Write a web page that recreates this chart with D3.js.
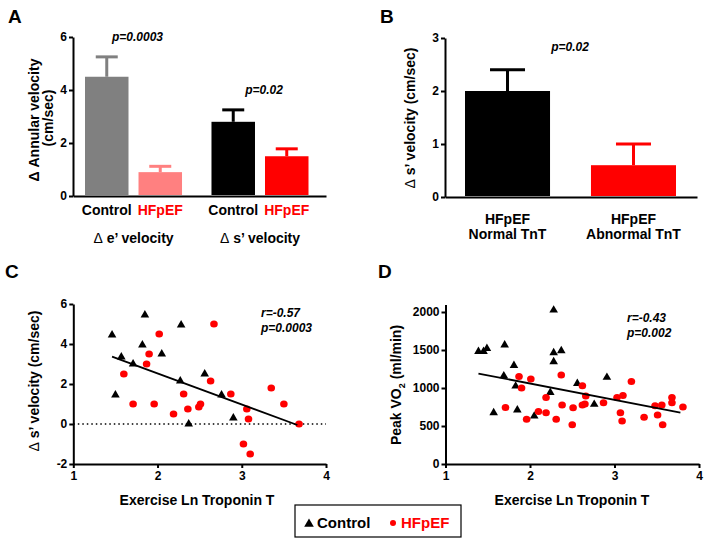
<!DOCTYPE html>
<html><head><meta charset="utf-8">
<script src="https://cdn.jsdelivr.net/npm/d3@7"></script>
<style>
body{margin:0;background:#fff}
text{font-family:"Liberation Sans",Arial,sans-serif;font-weight:bold;fill:#000}
</style>
</head><body>
<svg id="chart" width="706" height="543"></svg>
<script>
// ---------- Panel A data ----------
const aGroups = ["Δ e’ velocity", "Δ s’ velocity"];
const aSeries = ["Control", "HFpEF"];
const aMeans = [[4.5, 0.9], [2.8, 1.5]];
const aErrTop = [[5.25, 1.12], [3.25, 1.78]];
const aColors = [["#808080", "#ff8080"], ["#000000", "#ff0000"]];
const aLabelColors = ["#000000", "#ff0000"];
const aPvals = ["p=0.0003", "p=0.02"];
const aTicks = [0, 2, 4, 6];

// ---------- Panel B data ----------
const bCats = [["HFpEF", "Normal TnT"], ["HFpEF", "Abnormal TnT"]];
const bMeans = [2.0, 0.6];
const bErrTop = [2.4, 1.0];
const bColors = ["#000000", "#ff0000"];
const bTicks = [0, 1, 2, 3];
const bPval = "p=0.02";

// ---------- Panel C data ----------
const cControl = [[1.46,4.45],[1.57,3.35],[1.50,1.45],[1.71,3.0],[1.82,3.95],[1.85,5.45],[2.05,3.5],[2.28,4.95],[2.27,2.15],[2.37,0],[2.56,2.5],[2.76,1.45],[2.90,0.3]];
const cHFpEF = [[1.60,2.5],[1.71,1.0],[1.87,3.0],[1.90,3.5],[1.96,1.0],[2.02,4.5],[2.19,0.5],[2.31,1.5],[2.36,0.75],[2.49,0.85],[2.51,1.0],[2.63,2.15],[2.67,5.0],[2.87,1.5],[3.06,0.75],[3.08,0.25],[3.02,-1.0],[3.10,-1.5],[3.35,1.8],[3.50,1.0],[3.68,0]];
const cFit = [[1.46,3.37],[3.66,-0.05]];
const cYTicks = [-2, 0, 2, 4, 6];
const cStats = ["r=-0.57", "p=0.0003"];

// ---------- Panel D data ----------
const dControl = [[1.39,1480],[1.45,1480],[1.49,1520],[1.70,1565],[1.57,675],[1.69,1160],[1.81,1295],[1.83,1025],[1.85,710],[2.05,630],[2.28,2025],[2.28,1465],[2.28,1345],[2.37,1490],[2.24,940],[2.56,1060],[2.76,785],[2.91,1140]];
const dHFpEF = [[1.71,745],[1.87,1150],[1.90,1000],[1.96,590],[2.01,1120],[2.10,690],[2.19,675],[2.19,875],[2.31,590],[2.37,1170],[2.38,775],[2.51,740],[2.50,515],[2.62,1030],[2.66,895],[2.62,775],[2.65,790],[2.87,805],[3.03,875],[3.10,900],[3.20,1085],[3.07,675],[3.09,565],[3.35,615],[3.48,765],[3.56,775],[3.51,645],[3.57,515],[3.68,875],[3.68,805],[3.81,750]];
const dFit = [[1.39,1190],[3.78,675]];
const dYTicks = [0, 500, 1000, 1500, 2000];
const dStats = ["r=-0.43", "p=0.002"];

const xTicks = [1, 2, 3, 4];
const legendItems = ["Control", "HFpEF"];

// ---------- drawing ----------
const svg = d3.select("#chart");
const RED = "#ff0000";
const fmt = d => String(d);

function styleAxis(g) {
  g.selectAll("path.domain").attr("stroke", "#000").attr("stroke-width", 2);
  g.selectAll(".tick line").attr("stroke", "#000").attr("stroke-width", 2);
  g.selectAll(".tick text").attr("font-size", 12).attr("font-weight", "bold")
    .attr("font-family", '"Liberation Sans", Arial, sans-serif').attr("fill", "#000");
}
function panelLetter(t, x, y) {
  svg.append("text").attr("x", x).attr("y", y).attr("font-size", 19).text(t);
}
function yTitleLine(segs, x, yc) {
  const t = svg.append("text").attr("transform", `translate(${x},${yc}) rotate(-90)`)
    .attr("text-anchor", "middle").attr("font-size", 14);
  segs.forEach(seg => t.append("tspan").attr("font-weight", seg[1] ? "normal" : "bold").text(seg[0]));
  return t;
}

// ===== Panel A =====
panelLetter("A", 8, 23);
const aY = d3.scaleLinear().domain([0, 6]).range([196, 37]);
const aX0 = d3.scaleBand().domain(aGroups).range([85, 308.5]).paddingInner(0.233).paddingOuter(0);
const aX1 = d3.scaleBand().domain(aSeries).range([0, aX0.bandwidth()]).paddingInner(0.187).paddingOuter(0);
const aAxisX = d3.scaleLinear().domain([0, 1]).range([73, 326]);
svg.append("g").attr("transform", "translate(73,0)")
  .call(d3.axisLeft(aY).tickValues(aTicks).tickFormat(fmt).tickSize(4).tickSizeOuter(0).tickPadding(2)).call(styleAxis);
svg.append("g").attr("transform", "translate(0,196)")
  .call(d3.axisBottom(aAxisX).tickValues([]).tickSizeOuter(0)).call(styleAxis);
aGroups.forEach((g, gi) => {
  aSeries.forEach((s, si) => {
    const x = aX0(g) + aX1(s), w = aX1.bandwidth(), cx = x + w / 2, col = aColors[gi][si];
    const cap = 11;
    svg.append("line").attr("x1", cx).attr("x2", cx).attr("y1", aY(aMeans[gi][si])).attr("y2", aY(aErrTop[gi][si]))
      .attr("stroke", col).attr("stroke-width", 3);
    svg.append("line").attr("x1", cx - cap).attr("x2", cx + cap).attr("y1", aY(aErrTop[gi][si])).attr("y2", aY(aErrTop[gi][si]))
      .attr("stroke", col).attr("stroke-width", 3);
    svg.append("rect").attr("x", x).attr("width", w).attr("y", aY(aMeans[gi][si]))
      .attr("height", aY(0) - aY(aMeans[gi][si]) - 1).attr("fill", col);
    svg.append("text").attr("x", cx).attr("y", 215).attr("text-anchor", "middle").attr("font-size", 14)
      .style("fill", aLabelColors[si]).text(s);
  });
  const gc = aX0(g) + aX0.bandwidth() / 2;
  const gt = svg.append("text").attr("x", gc).attr("y", 243).attr("text-anchor", "middle").attr("font-size", 14);
  gt.append("tspan").attr("font-weight", "normal").text(g.slice(0, 1));
  gt.append("tspan").text(g.slice(1));
  const topVal = Math.max(...aErrTop[gi]);
  svg.append("text").attr("x", gc + 4).attr("y", aY(topVal) - 16).attr("text-anchor", "middle")
    .attr("font-size", 12).attr("font-style", "italic").text(aPvals[gi]);
});
yTitleLine([["Δ Annular velocity", false]], 39, 120);
yTitleLine([["(cm/sec)", false]], 53, 118);

// ===== Panel B =====
panelLetter("B", 380, 23);
const bY = d3.scaleLinear().domain([0, 3]).range([197, 38]);
const bX = d3.scaleBand().domain(bCats.map(d => d.join(" "))).range([465, 676]).paddingInner(0.325).paddingOuter(0);
const bAxisX = d3.scaleLinear().domain([0, 1]).range([445, 697]);
svg.append("g").attr("transform", "translate(445,0)")
  .call(d3.axisLeft(bY).tickValues(bTicks).tickFormat(fmt).tickSize(4).tickSizeOuter(0).tickPadding(2)).call(styleAxis);
svg.append("g").attr("transform", "translate(0,197)")
  .call(d3.axisBottom(bAxisX).tickValues([]).tickSizeOuter(0)).call(styleAxis);
bCats.forEach((c, i) => {
  const key = c.join(" "), x = bX(key), w = bX.bandwidth(), cx = x + w / 2, col = bColors[i], cap = 17.5;
  svg.append("line").attr("x1", cx).attr("x2", cx).attr("y1", bY(bMeans[i])).attr("y2", bY(bErrTop[i]))
    .attr("stroke", col).attr("stroke-width", 3);
  svg.append("line").attr("x1", cx - cap).attr("x2", cx + cap).attr("y1", bY(bErrTop[i])).attr("y2", bY(bErrTop[i]))
    .attr("stroke", col).attr("stroke-width", 3);
  svg.append("rect").attr("x", x).attr("width", w).attr("y", bY(bMeans[i]))
    .attr("height", bY(0) - bY(bMeans[i]) - 1).attr("fill", col);
  c.forEach((l, li) => svg.append("text").attr("x", cx).attr("y", 224 + li * 14.5).attr("text-anchor", "middle")
    .attr("font-size", 14).text(l));
});
svg.append("text").attr("x", 570).attr("y", 51).attr("text-anchor", "middle").attr("font-size", 12)
  .attr("font-style", "italic").text(bPval);
yTitleLine([["Δ", true], [" s’ velocity (cm/sec)", false]], 415, 118);

// ===== scatter helper =====
function scatter(xs, ys, ctrl, hf, fit, stats, statsX, statsY) {
  const tri = d3.symbol().type(d3.symbolTriangle).size(32);
  svg.append("g").selectAll("path").data(ctrl).join("path")
    .attr("transform", d => `translate(${xs(d[0])},${ys(d[1])})`).attr("d", tri).attr("fill", "#000");
  svg.append("g").selectAll("ellipse").data(hf).join("ellipse")
    .attr("cx", d => xs(d[0])).attr("cy", d => ys(d[1])).attr("rx", 3.8).attr("ry", 3.5).attr("fill", RED);
  svg.append("line").attr("x1", xs(fit[0][0])).attr("y1", ys(fit[0][1]))
    .attr("x2", xs(fit[1][0])).attr("y2", ys(fit[1][1])).attr("stroke", "#000").attr("stroke-width", 1.8);
  stats.forEach((s, i) => svg.append("text").attr("x", statsX).attr("y", statsY + i * 14.5)
    .attr("font-size", 12).attr("font-style", "italic").text(s));
}

// ===== Panel C =====
panelLetter("C", 5, 278);
const cX = d3.scaleLinear().domain([1, 4]).range([73.3, 326]);
const cY = d3.scaleLinear().domain([-2, 6]).range([464, 304]);
svg.append("g").attr("transform", "translate(73.3,0)")
  .call(d3.axisLeft(cY).tickValues(cYTicks).tickFormat(fmt).tickSize(4).tickSizeOuter(0).tickPadding(2)).call(styleAxis);
svg.append("g").attr("transform", "translate(0,464)")
  .call(d3.axisBottom(cX).tickValues(xTicks).tickFormat(fmt).tickSize(4).tickSizeOuter(0).tickPadding(3)).call(styleAxis);
svg.append("line").attr("x1", cX(1)).attr("x2", cX(4)).attr("y1", cY(0)).attr("y2", cY(0))
  .attr("stroke", "#000").attr("stroke-width", 1.5).attr("stroke-dasharray", "1.5,3");
scatter(cX, cY, cControl, cHFpEF, cFit, cStats, 261, 317);
yTitleLine([["Δ", true], [" s’ velocity (cm/sec)", false]], 39, 381);
svg.append("text").attr("x", 197).attr("y", 505).attr("text-anchor", "middle").attr("font-size", 14)
  .text("Exercise Ln Troponin T");

// ===== Panel D =====
panelLetter("D", 378, 278);
const dX = d3.scaleLinear().domain([1, 4]).range([445.5, 699]);
const dY = d3.scaleLinear().domain([0, 2100]).range([464, 304.4]);
svg.append("g").attr("transform", "translate(445.5,0)")
  .call(d3.axisLeft(dY).tickValues(dYTicks).tickFormat(fmt).tickSize(4).tickSizeOuter(0).tickPadding(2)).call(styleAxis);
svg.append("g").attr("transform", "translate(0,464)")
  .call(d3.axisBottom(dX).tickValues(xTicks).tickFormat(fmt).tickSize(4).tickSizeOuter(0).tickPadding(3)).call(styleAxis);
scatter(dX, dY, dControl, dHFpEF, dFit, dStats, 627, 322);
{
  const t = svg.append("text").attr("transform", `translate(401,385) rotate(-90)`)
    .attr("text-anchor", "middle").attr("font-size", 14);
  t.append("tspan").text("Peak VO");
  t.append("tspan").attr("font-size", 9).attr("dy", 4).text("2");
  t.append("tspan").attr("dy", -4).text(" (ml/min)");
}
svg.append("text").attr("x", 572).attr("y", 505).attr("text-anchor", "middle").attr("font-size", 14)
  .text("Exercise Ln Troponin T");

// ===== Legend =====
svg.append("rect").attr("x", 295).attr("y", 505).attr("width", 166).attr("height", 32)
  .attr("fill", "none").attr("stroke", "#000").attr("stroke-width", 1.2);
svg.append("path").attr("transform", "translate(309,524)")
  .attr("d", d3.symbol().type(d3.symbolTriangle).size(40)()).attr("fill", "#000");
svg.append("text").attr("x", 317).attr("y", 528).attr("font-size", 15).text(legendItems[0]);
svg.append("circle").attr("cx", 393).attr("cy", 523).attr("r", 3).attr("fill", RED);
svg.append("text").attr("x", 401).attr("y", 528).attr("font-size", 15).style("fill", RED).text(legendItems[1]);
</script>
</body></html>
